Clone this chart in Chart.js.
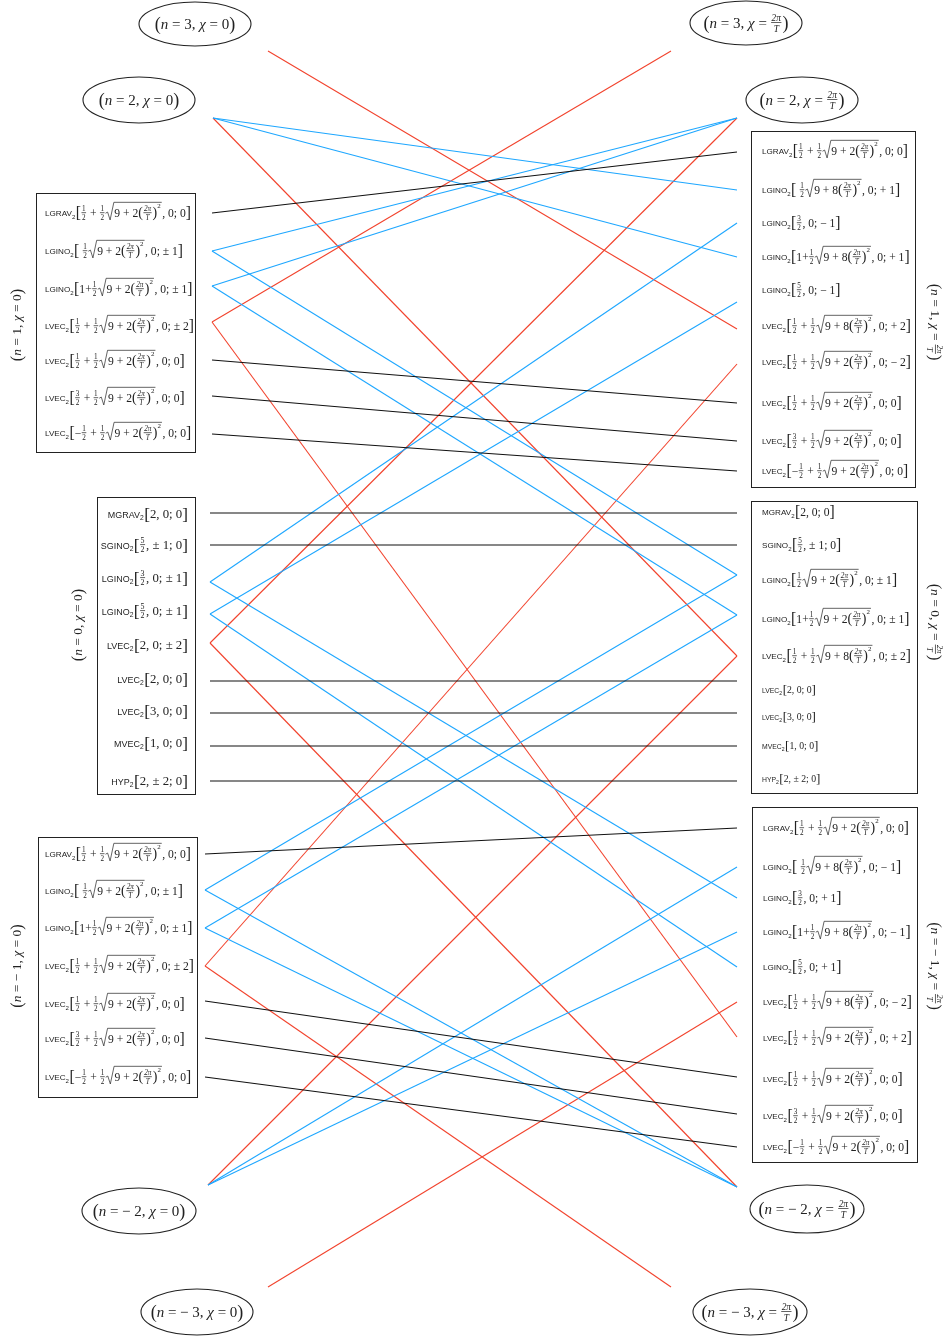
<!DOCTYPE html>
<html>
<head>
<meta charset="utf-8">
<script src="https://cdn.jsdelivr.net/npm/chart.js@4/dist/chart.umd.min.js"></script>
<style>
  html, body { margin: 0; padding: 0; background: #fff; }
  canvas { display: block; }
</style>
</head>
<body>
<canvas id="diagrama" width="952" height="1336"></canvas>
<script>
// ---- DATA ----------------------------------------------------------
// markup: UPPER = sans name, _2 subscript, {a|b} fraction, √{..} root, ^2 power

const labelsA = [
  'LGRAV_2[{1|2} + {1|2}√{9 + 2({2π|T})^2}, 0; 0]',
  'LGINO_2[ {1|2}√{9 + 2({2π|T})^2}, 0; ± 1]',
  'LGINO_2[1+{1|2}√{9 + 2({2π|T})^2}, 0; ± 1]',
  'LVEC_2[{1|2} + {1|2}√{9 + 2({2π|T})^2}, 0; ± 2]',
  'LVEC_2[{1|2} + {1|2}√{9 + 2({2π|T})^2}, 0; 0]',
  'LVEC_2[{3|2} + {1|2}√{9 + 2({2π|T})^2}, 0; 0]',
  'LVEC_2[−{1|2} + {1|2}√{9 + 2({2π|T})^2}, 0; 0]'
];
const labelsB = [
  'MGRAV_2[2, 0; 0]',
  'SGINO_2[{5|2}, ± 1; 0]',
  'LGINO_2[{3|2}, 0; ± 1]',
  'LGINO_2[{5|2}, 0; ± 1]',
  'LVEC_2[2, 0; ± 2]',
  'LVEC_2[2, 0; 0]',
  'LVEC_2[3, 0; 0]',
  'MVEC_2[1, 0; 0]',
  'HYP_2[2, ± 2; 0]'
];
const labelsC = labelsA.slice();
const labelsD = [
  'LGRAV_2[{1|2} + {1|2}√{9 + 2({2π|T})^2}, 0; 0]',
  'LGINO_2[ {1|2}√{9 + 8({2π|T})^2}, 0; + 1]',
  'LGINO_2[{3|2}, 0; − 1]',
  'LGINO_2[1+{1|2}√{9 + 8({2π|T})^2}, 0; + 1]',
  'LGINO_2[{5|2}, 0; − 1]',
  'LVEC_2[{1|2} + {1|2}√{9 + 8({2π|T})^2}, 0; + 2]',
  'LVEC_2[{1|2} + {1|2}√{9 + 2({2π|T})^2}, 0; − 2]',
  'LVEC_2[{1|2} + {1|2}√{9 + 2({2π|T})^2}, 0; 0]',
  'LVEC_2[{3|2} + {1|2}√{9 + 2({2π|T})^2}, 0; 0]',
  'LVEC_2[−{1|2} + {1|2}√{9 + 2({2π|T})^2}, 0; 0]'
];
const labelsE = [
  'MGRAV_2[2, 0; 0]',
  'SGINO_2[{5|2}, ± 1; 0]',
  'LGINO_2[{1|2}√{9 + 2({2π|T})^2}, 0; ± 1]',
  'LGINO_2[1+{1|2}√{9 + 2({2π|T})^2}, 0; ± 1]',
  'LVEC_2[{1|2} + {1|2}√{9 + 8({2π|T})^2}, 0; ± 2]',
  'LVEC_2[2, 0; 0]',
  'LVEC_2[3, 0; 0]',
  'MVEC_2[1, 0; 0]',
  'HYP_2[2, ± 2; 0]'
];
const labelsF = [
  'LGRAV_2[{1|2} + {1|2}√{9 + 2({2π|T})^2}, 0; 0]',
  'LGINO_2[ {1|2}√{9 + 8({2π|T})^2}, 0; − 1]',
  'LGINO_2[{3|2}, 0; + 1]',
  'LGINO_2[1+{1|2}√{9 + 8({2π|T})^2}, 0; − 1]',
  'LGINO_2[{5|2}, 0; + 1]',
  'LVEC_2[{1|2} + {1|2}√{9 + 8({2π|T})^2}, 0; − 2]',
  'LVEC_2[{1|2} + {1|2}√{9 + 2({2π|T})^2}, 0; + 2]',
  'LVEC_2[{1|2} + {1|2}√{9 + 2({2π|T})^2}, 0; 0]',
  'LVEC_2[{3|2} + {1|2}√{9 + 2({2π|T})^2}, 0; 0]',
  'LVEC_2[−{1|2} + {1|2}√{9 + 2({2π|T})^2}, 0; 0]'
];

// level of each state in the diagram (y, downwards) where the lines end
const levelsA = [213, 251, 286, 322, 360, 396, 434];
const levelsB = [513, 545, 582, 614, 643, 681, 713, 746, 781];
const levelsC = [854, 890, 928, 966, 1001, 1038, 1077];
const levelsD = [152, 190, 223, 257, 302, 329, 364, 403, 441, 471];
const levelsE = [513, 545, 575, 615, 656, 681, 713, 746, 781];
const levelsF = [828, 867, 898, 932, 967, 1002, 1037, 1077, 1114, 1147];

// row of each label text
const rowsA = [213, 251, 289, 326, 361, 398, 433];
const rowsB = [514, 545, 578, 611, 645, 679, 711, 743, 781];
const rowsC = [854, 891, 928, 966, 1004, 1039, 1077];
const rowsD = [151, 190, 223, 257, 290, 326, 362, 403, 441, 471];
const rowsE = [512, 545, 580, 619, 656, 690, 717, 746, 779];
const rowsF = [828, 867, 898, 932, 967, 1002, 1038, 1079, 1116, 1147];

// sectors
const stateNames = {
  t3L: '(n = 3, χ = 0)',       t3R: '(n = 3, χ = {2π|T})',
  t2L: '(n = 2, χ = 0)',       t2R: '(n = 2, χ = {2π|T})',
  b2L: '(n = − 2, χ = 0)',     b2R: '(n = − 2, χ = {2π|T})',
  b3L: '(n = − 3, χ = 0)',     b3R: '(n = − 3, χ = {2π|T})'
};
const sideNames = {
  A: '(n = 1, χ = 0)',  B: '(n = 0, χ = 0)',  C: '(n = − 1, χ = 0)',
  D: '(n = 1, χ = {2π|T})', E: '(n = 0, χ = {2π|T})', F: '(n = − 1, χ = {2π|T})'
};

// connections
const blackLinks = [['A0','D0'],['A4','D7'],['A5','D8'],['A6','D9'],
  ['B0','E0'],['B1','E1'],['B5','E5'],['B6','E6'],['B7','E7'],['B8','E8'],
  ['C0','F0'],['C4','F7'],['C5','F8'],['C6','F9']];
const redLinks = [['t3L','D5'],['t3R','A3'],['t2L','E4'],['t2R','B4'],['A3','F6'],
  ['D6','C3'],['B4','b2R'],['E4','b2L'],['C3','b3R'],['b3L','F5']];
const blueLinks = [['t2L','D1'],['t2L','D3'],['t2R','A1'],['t2R','A2'],['A1','E2'],['A2','E3'],
  ['B2','D2'],['B3','D4'],['B2','F2'],['B3','F4'],['E2','C1'],['E3','C2'],
  ['C1','b2R'],['C2','b2R'],['b2L','F1'],['b2L','F3']];

// ---- LAYOUT --------------------------------------------------------
const boxes = {
  A: { x0: 36,  x1: 195, y0: 193, y1: 452,  tx: 45,  align: 'left',  sz: 11.6, sans: 0.7, end: 212, side: [17, 325],
       labels: labelsA, rows: rowsA, levels: levelsA },
  B: { x0: 97,  x1: 195, y0: 497, y1: 794,  tx: 188, align: 'right', sz: 12.8, sans: 0.7, end: 210, side: [78, 625],
       labels: labelsB, rows: rowsB, levels: levelsB },
  C: { x0: 38,  x1: 197, y0: 837, y1: 1097, tx: 45,  align: 'left',  sz: 11.6, sans: 0.7, end: 205, side: [17, 966],
       labels: labelsC, rows: rowsC, levels: levelsC },
  D: { x0: 751, x1: 915, y0: 131, y1: 487,  tx: 762, align: 'left',  sz: 11.6, sans: 0.7, end: 737, side: [935, 322],
       labels: labelsD, rows: rowsD, levels: levelsD },
  E: { x0: 751, x1: 917, y0: 501, y1: 793,  tx: 762, align: 'left',  sz: 11.6, sans: 0.7, end: 737, side: [935, 622],
       labels: labelsE, rows: rowsE, levels: levelsE, small: [5, 6, 7, 8] },
  F: { x0: 752, x1: 917, y0: 807, y1: 1162, tx: 763, align: 'left',  sz: 11.6, sans: 0.7, end: 737, side: [935, 966],
       labels: labelsF, rows: rowsF, levels: levelsF }
};
const stateNodes = {
  t3L: { at: [268, 51],   c: [195, 24],   r: [56, 22] },
  t3R: { at: [671, 51],   c: [746, 23],   r: [56, 22] },
  t2L: { at: [213, 118],  c: [139, 100],  r: [56, 23] },
  t2R: { at: [737, 118],  c: [802, 100],  r: [56, 23] },
  b2L: { at: [208, 1185], c: [139, 1211], r: [57, 23] },
  b2R: { at: [737, 1187], c: [807, 1209], r: [57, 24] },
  b3L: { at: [268, 1287], c: [197, 1312], r: [56, 23] },
  b3R: { at: [671, 1287], c: [750, 1312], r: [57, 23] }
};

const SERIF = '"Liberation Serif", "DejaVu Serif", serif';
const SANS = '"Liberation Sans", Arial, sans-serif';

function nodePoint(key) {
  if (stateNodes[key]) return { x: stateNodes[key].at[0], y: stateNodes[key].at[1] };
  const b = boxes[key[0]];
  return { x: b.end, y: b.levels[+key.slice(1)] };
}

function linkSets(links, color) {
  return links.map(([a, b]) => ({
    data: [nodePoint(a), nodePoint(b)],
    showLine: true,
    borderColor: color,
    borderWidth: 1.1,
    pointRadius: 0,
    fill: false
  }));
}

// ---- tiny math-label renderer ---------------------------------------
function parse(s) {
  let i = 0;
  function seq(end) {
    const toks = [];
    let buf = '';
    const flush = () => { if (buf) { toks.push({ k: 'm', t: buf }); buf = ''; } };
    while (i < s.length) {
      const c = s[i];
      if (c === end) { i++; break; }
      if (/[A-Z]/.test(c) && /[A-Z]/.test(s[i + 1] || '')) {
        flush();
        let w = '';
        while (/[A-Z]/.test(s[i] || '')) w += s[i++];
        toks.push({ k: 's', t: w });
        continue;
      }
      if (c === '_') { flush(); toks.push({ k: 'sub', t: s[i + 1] }); i += 2; continue; }
      if (c === '^') { flush(); toks.push({ k: 'sup', t: s[i + 1] }); i += 2; continue; }
      if (c === '[' || c === ']') { flush(); toks.push({ k: 'br', t: c }); i++; continue; }
      if (c === '(' || c === ')') { flush(); toks.push({ k: 'pa', t: c }); i++; continue; }
      if (c === '√') { flush(); i += 2; toks.push({ k: 'rt', c: seq('}') }); continue; }
      if (c === '{') {
        flush(); i++;
        const j = s.indexOf('}', i);
        const [a, b] = s.slice(i, j).split('|');
        i = j + 1;
        toks.push({ k: 'fr', a, b });
        continue;
      }
      if (c === 'n' || c === 'χ') { flush(); toks.push({ k: 'it', t: c }); i++; continue; }
      buf += c; i++;
    }
    flush();
    return toks;
  }
  return seq(null);
}

function run(ctx, toks, x, y, sz, draw, sans) {
  sans = sans || 0.7;
  let cx = x;
  const txt = (t, font, dy) => {
    ctx.font = font;
    const w = ctx.measureText(t).width;
    if (draw) ctx.fillText(t, cx, y + dy);
    return w;
  };
  for (const t of toks) {
    if (t.k === 's') cx += txt(t.t, `${sz * sans}px ${SANS}`, sz * sans * 0.4);
    else if (t.k === 'sub') cx += txt(t.t, `${sz * sans * 0.75}px ${SANS}`, sz * 0.5) + 0.5;
    else if (t.k === 'm') cx += txt(t.t, `${sz}px ${SERIF}`, sz * 0.33);
    else if (t.k === 'it') cx += txt(t.t, `italic ${sz}px ${SERIF}`, sz * 0.33);
    else if (t.k === 'br') cx += txt(t.t, `${sz * 1.35}px ${SERIF}`, sz * 0.45);
    else if (t.k === 'pa') cx += txt(t.t, `${sz * 1.2}px ${SERIF}`, sz * 0.38);
    else if (t.k === 'sup') cx += txt(t.t, `${sz * 0.6}px ${SERIF}`, -sz * 0.42) + 0.5;
    else if (t.k === 'fr') {
      const font = (/[πT]/.test(t.a + t.b) ? 'italic ' : '') + `${sz * 0.62}px ${SERIF}`;
      ctx.font = font;
      const wa = ctx.measureText(t.a).width, wb = ctx.measureText(t.b).width;
      const w = Math.max(wa, wb) + 2;
      if (draw) {
        ctx.fillText(t.a, cx + (w - wa) / 2, y - sz * 0.13);
        ctx.fillText(t.b, cx + (w - wb) / 2, y + sz * 0.57);
        ctx.fillRect(cx + 0.5, y - sz * 0.05, w - 1, 0.7);
      }
      cx += w + 0.5;
    } else if (t.k === 'rt') {
      const inner = run(ctx, t.c, 0, 0, sz, false, sans);
      const sg = sz * 0.72;
      const top = y - sz * 0.92;
      if (draw) {
        ctx.beginPath();
        ctx.moveTo(cx, y + sz * 0.02);
        ctx.lineTo(cx + sg * 0.25, y - sz * 0.08);
        ctx.lineTo(cx + sg * 0.55, y + sz * 0.6);
        ctx.lineTo(cx + sg, top);
        ctx.lineTo(cx + sg + inner + 1, top);
        ctx.lineWidth = 0.7;
        ctx.stroke();
        run(ctx, t.c, cx + sg + 0.5, y, sz, true, sans);
      }
      cx += sg + inner + 1.5;
    }
  }
  return cx - x;
}

function mathLabel(ctx, str, x, y, sz, align, sans) {
  const toks = parse(str);
  const w = run(ctx, toks, 0, 0, sz, false, sans);
  const x0 = align === 'right' ? x - w : align === 'center' ? x - w / 2 : x;
  run(ctx, toks, x0, y, sz, true, sans);
}

// ---- plugin: boxes, ellipses, texts ---------------------------------
const diagramPlugin = {
  id: 'diagram',
  beforeDraw(chart) {
    const ctx = chart.ctx;
    ctx.save();
    ctx.fillStyle = '#fff';
    ctx.fillRect(0, 0, chart.width, chart.height);
    ctx.restore();
  },
  afterDatasetsDraw(chart) {
    const { ctx, scales: { x, y } } = chart;
    const px = v => x.getPixelForValue(v), py = v => y.getPixelForValue(v);
    ctx.save();
    ctx.fillStyle = '#222';
    ctx.strokeStyle = '#222';
    ctx.textBaseline = 'alphabetic';

    // boxes and rows
    Object.entries(boxes).forEach(([key, b]) => {
      ctx.lineWidth = 1;
      ctx.strokeRect(Math.round(px(b.x0)) + 0.5, Math.round(py(b.y0)) + 0.5,
        px(b.x1) - px(b.x0), py(b.y1) - py(b.y0));
      b.labels.forEach((lab, i) => {
        const sz = b.small && b.small.includes(i) ? b.sz * 0.84 : b.sz;
        mathLabel(ctx, lab, px(b.tx), py(b.rows[i]), sz, b.align, b.sans);
      });
      // rotated sector name
      ctx.save();
      ctx.translate(px(b.side[0]), py(b.side[1]));
      ctx.rotate(key >= 'D' ? Math.PI / 2 : -Math.PI / 2);
      mathLabel(ctx, sideNames[key], 0, 0, 13.5, 'center');
      ctx.restore();
    });

    // ellipses
    Object.entries(stateNodes).forEach(([key, s]) => {
      ctx.beginPath();
      ctx.ellipse(px(s.c[0]), py(s.c[1]), s.r[0], s.r[1], 0, 0, Math.PI * 2);
      ctx.lineWidth = 1.1;
      ctx.stroke();
      mathLabel(ctx, stateNames[key], px(s.c[0]), py(s.c[1]), 15, 'center');
    });
    ctx.restore();
  }
};

new Chart(document.getElementById('diagrama'), {
  type: 'scatter',
  data: {
    datasets: [
      ...linkSets(blackLinks, '#111111'),
      ...linkSets(blueLinks, '#1ea7ff'),
      ...linkSets(redLinks, '#f2432d')
    ]
  },
  options: {
    responsive: false,
    animation: false,
    layout: { padding: 0 },
    plugins: { legend: { display: false }, tooltip: { enabled: false } },
    scales: {
      x: { type: 'linear', min: 0, max: 952, display: false },
      y: { type: 'linear', min: 0, max: 1336, reverse: true, display: false }
    }
  },
  plugins: [diagramPlugin]
});
</script>
</body>
</html>
